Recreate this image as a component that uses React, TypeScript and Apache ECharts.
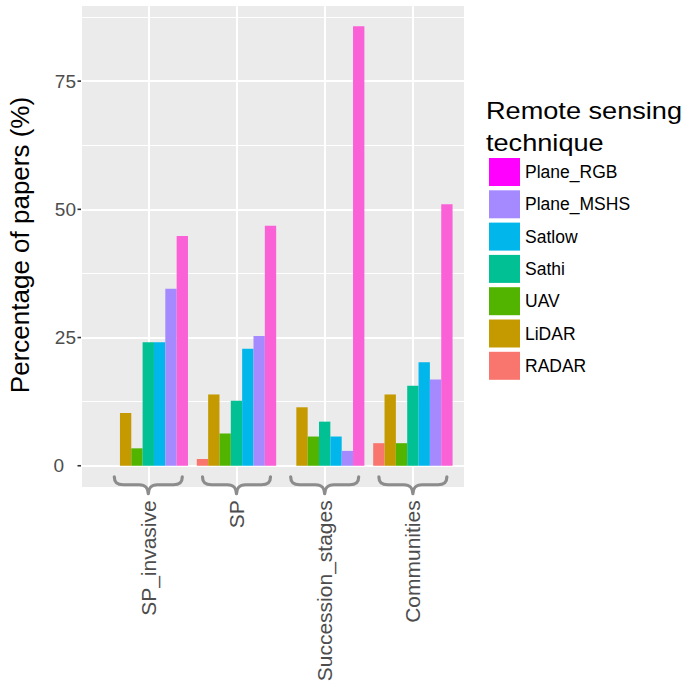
import React, { useEffect, useRef } from 'react';
import * as echarts from 'echarts';

// Study categories along the x axis
const categories = ['SP_invasive', 'SP', 'Succession_stages', 'Communities'];

// Remote sensing techniques, in dodge order (left to right inside a group)
const techniques = ['RADAR', 'LiDAR', 'UAV', 'Sathi', 'Satlow', 'Plane_MSHS', 'Plane_RGB'];

// Percentage of papers per technique, one value per category
const radar = [0, 1.3, 0, 4.4];
const lidar = [10.3, 13.9, 11.4, 13.9];
const uav = [3.4, 6.3, 5.7, 4.4];
const sathi = [24.1, 12.7, 8.6, 15.6];
const satlow = [24.1, 22.8, 5.7, 20.2];
const planeMshs = [34.5, 25.3, 2.9, 16.8];
const planeRgb = [44.8, 46.8, 85.7, 51.0];

// Labelled y ticks
const yTicks = [0, 25, 50, 75];

// Legend order (reverse of the dodge order)
const legendOrder = ['Plane_RGB', 'Plane_MSHS', 'Satlow', 'Sathi', 'UAV', 'LiDAR', 'RADAR'];

const colors = ['#F8766D', '#C49A00', '#53B400', '#00C094', '#00B6EB', '#A58AFF', '#FB61D7'];
const FONT = "'Liberation Sans', Arial, Helvetica, sans-serif";

// Curly brace opening upwards, drawn under each category group
const BRACE_PATH =
  'M -34 0 C -34 6 -31 8 -25 8 L -9 8 C -3 8 0 12 0 17 C 0 12 3 8 9 8 L 25 8 C 31 8 34 6 34 0';

const GRID_LEFT = 81;
const GRID_RIGHT = 464.3;
const GRID_TOP = 4.7;
const GRID_BOTTOM = 487.3;

export default function App() {
  const ref = useRef<HTMLDivElement>(null);

  useEffect(() => {
    if (!ref.current) return;
    echarts.graphic.registerShape('brace', echarts.graphic.extendPath(BRACE_PATH, {}));
    const chart = echarts.init(ref.current, null, { renderer: 'svg' });
    const seriesValues = [radar, lidar, uav, sathi, satlow, planeMshs, planeRgb];

    chart.setOption({
      animation: false,
      backgroundColor: '#FFFFFF',
      grid: {
        left: GRID_LEFT,
        right: 687 - GRID_RIGHT,
        top: GRID_TOP,
        bottom: 687 - GRID_BOTTOM,
        show: true,
        backgroundColor: '#EBEBEB',
        borderWidth: 0,
        containLabel: false,
        outerBoundsMode: 'none',
      },
      xAxis: {
        type: 'value',
        min: -0.763,
        max: 3.583,
        minInterval: 1,
        maxInterval: 1,
        axisLine: { show: false },
        axisTick: { show: false },
        splitLine: { show: true, lineStyle: { color: '#FFFFFF', width: 2 } },
        axisLabel: {
          rotate: 90,
          margin: 13,
          fontSize: 21,
          color: '#4D4D4D',
          fontFamily: FONT,
          formatter: (v: number) =>
            Number.isInteger(v) && categories[v] !== undefined ? categories[v] : '',
        },
      },
      yAxis: {
        type: 'value',
        min: -4.2,
        max: 89.9,
        minInterval: 25,
        maxInterval: 25,
        axisLine: { show: false },
        axisTick: { show: false },
        minorTick: { show: false, splitNumber: 2 },
        splitLine: { show: true, lineStyle: { color: '#FFFFFF', width: 2 } },
        minorSplitLine: { show: true, lineStyle: { color: '#FFFFFF', width: 1.2 } },
        axisLabel: {
          margin: 5,
          fontSize: 19,
          color: '#4D4D4D',
          fontFamily: FONT,
          formatter: (v: number) => {
            if (!yTicks.includes(v)) return '';
            return v === 0 ? '{z|0}' : String(v);
          },
          rich: {
            z: { fontSize: 19, color: '#4D4D4D', fontFamily: FONT, padding: [0, 12, 0, 0] },
          },
        },
      },
      legend: {
        orient: 'vertical',
        left: 489,
        top: 158,
        padding: 0,
        itemWidth: 31,
        itemHeight: 28,
        itemGap: 4.3,
        icon: 'rect',
        selectedMode: false,
        textStyle: { fontSize: 17.5, color: '#000000', fontFamily: FONT },
        data: legendOrder.map((n) =>
          n === 'Plane_RGB' ? { name: n, itemStyle: { color: '#FF00FF' } } : { name: n }
        ),
      },
      series: techniques.map((name, i) => ({
        type: 'bar',
        name,
        data: seriesValues[i].map((v, j) => [j, v]),
        itemStyle: { color: colors[i] },
        barGap: '0%',
        barCategoryGap: '10%',
      })),
    });

    const zeroY = chart.convertToPixel({ yAxisIndex: 0 }, 0) as number;

    const braces = categories.map((_, j) => ({
      type: 'brace',
      x: chart.convertToPixel({ xAxisIndex: 0 }, j) as number,
      y: zeroY + 11,
      z: 10,
      silent: true,
      style: {
        stroke: '#8C8C8C',
        fill: 'none',
        lineWidth: 3.2,
        lineCap: 'round',
        lineJoin: 'round',
      },
    }));

    const ticks = yTicks.map((v) => {
      const py = chart.convertToPixel({ yAxisIndex: 0 }, v) as number;
      return {
        type: 'line',
        z: 10,
        silent: true,
        shape: { x1: GRID_LEFT - 3.5, y1: py, x2: GRID_LEFT, y2: py },
        style: { stroke: '#333333', lineWidth: 1.6 },
      };
    });

    chart.setOption({
      graphic: {
        elements: [
          {
            type: 'text',
            x: 20,
            y: 245,
            rotation: Math.PI / 2,
            z: 10,
            style: {
              text: 'Percentage of papers (%)',
              fill: '#000000',
              fontSize: 26,
              fontFamily: FONT,
              align: 'center',
              verticalAlign: 'middle',
            },
          },
          {
            type: 'text',
            x: 486,
            y: 111,
            scaleX: 1.18,
            z: 10,
            style: {
              text: 'Remote sensing',
              fill: '#000000',
              fontSize: 23,
              fontFamily: FONT,
              align: 'left',
              verticalAlign: 'middle',
            },
          },
          {
            type: 'text',
            x: 486,
            y: 143,
            scaleX: 1.18,
            z: 10,
            style: {
              text: 'technique',
              fill: '#000000',
              fontSize: 23,
              fontFamily: FONT,
              align: 'left',
              verticalAlign: 'middle',
            },
          },
          ...braces,
          ...ticks,
        ],
      },
    });

    return () => chart.dispose();
  }, []);

  return (
    <div
      ref={ref}
      style={{ position: 'fixed', left: 0, top: 0, width: 687, height: 687 }}
    />
  );
}
